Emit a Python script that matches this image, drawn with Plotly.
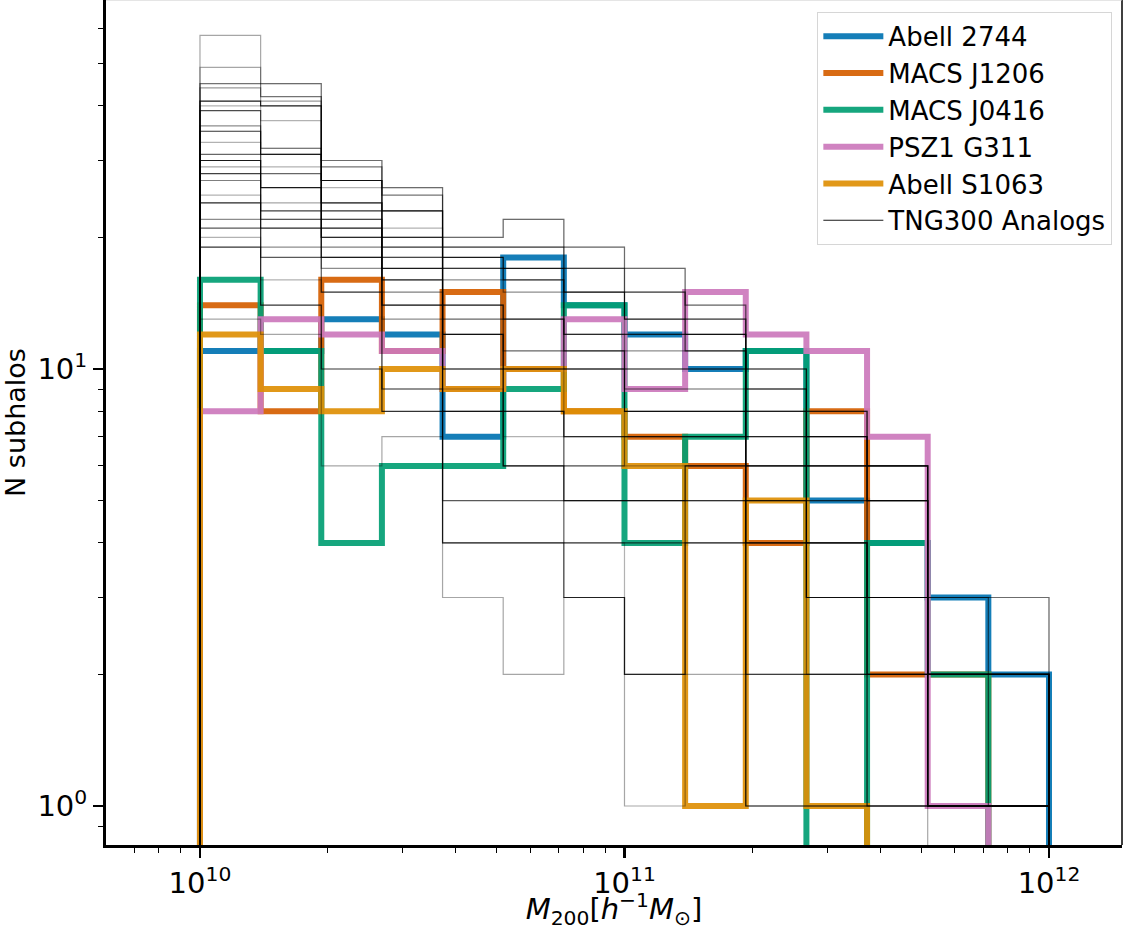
import numpy as np
import plotly.graph_objects as go

# ---------------- data ----------------
bin_edges = np.logspace(10, 12, 15)  # 14 bins, 1/7 dex each

cluster_names = ["Abell 2744", "MACS J1206", "MACS J0416", "PSZ1 G311", "Abell S1063"]
cluster_colors = ["#0173B2", "#D55E00", "#029E73", "#CC78BC", "#DE8F05"]

abell2744 = [11, 11, 13, 12, 7, 18, 14, 12, 10, 11, 5, 4, 3, 2]
macs1206 = [14, 8, 16, 11, 15, 10, 8, 7, 6, 4, 8, 2, 2, 0]
macs0416 = [16, 11, 4, 6, 6, 9, 14, 4, 7, 11, 0, 4, 2, 0]
psz1g311 = [8, 13, 12, 11, 9, 10, 13, 9, 15, 12, 11, 7, 1, 0]
abells1063 = [12, 9, 8, 10, 9, 10, 8, 6, 1, 5, 1, 0, 0, 0]
cluster_counts = [abell2744, macs1206, macs0416, psz1g311, abells1063]

# TNG300 analog histograms (counts per bin)
analogs = [
    [58, 45, 30, 26, 20, 22, 19, 17, 14, 10, 8, 6, 3, 3],
    [49, 45, 30, 26, 20, 22, 19, 17, 14, 10, 8, 6, 3, 3],
    [45, 42, 29, 25, 19, 19, 17, 15, 13, 10, 8, 6, 3, 2],
    [44, 41, 27, 23, 19, 19, 17, 15, 13, 9, 7, 6, 2, 2],
    [41, 40, 27, 23, 18, 17, 15, 13, 12, 9, 7, 6, 2, 2],
    [40, 37, 26, 21, 17, 16, 15, 12, 12, 8, 7, 5, 2, 2],
    [39, 32, 24, 20, 17, 16, 12, 12, 11, 8, 6, 5, 2, 2],
    [36, 31, 24, 20, 16, 15, 12, 11, 11, 8, 6, 5, 2, 2],
    [35, 31, 23, 19, 14, 13, 11, 10, 10, 7, 6, 5, 2, 2],
    [33, 29, 22, 18, 14, 13, 11, 10, 10, 7, 5, 3, 2, 2],
    [31, 28, 22, 18, 13, 11, 10, 9, 9, 6, 5, 3, 2, 1],
    [30, 26, 21, 17, 12, 10, 10, 8, 8, 6, 4, 3, 1, 1],
    [29, 24, 20, 16, 12, 10, 7, 8, 8, 6, 4, 3, 1, 1],
    [28, 23, 20, 16, 10, 8, 7, 7, 7, 5, 4, 3, 1, 1],
    [27, 22, 19, 15, 10, 8, 6, 7, 7, 5, 3, 2, 1, 1],
    [25, 22, 18, 14, 9, 7, 6, 6, 6, 4, 3, 2, 1, 1],
    [24, 21, 18, 14, 8, 6, 5, 5, 6, 4, 3, 2, 1, 1],
    [22, 19, 17, 13, 8, 6, 5, 5, 5, 4, 2, 2, 1, 1],
    [21, 18, 15, 9, 5, 5, 4, 4, 5, 2, 2, 1, 1, 1],
    [20, 16, 15, 9, 4, 4, 4, 2, 4, 2, 2, 1, 1, 1],
    [19, 14, 10, 8, 4, 4, 3, 2, 4, 1, 1, 1, 1, 1],
    [13, 12, 6, 7, 3, 2, 3, 1, 2, 1, 1, 1, 0, 0],
]
analog_alpha = [0.35, 0.35, 0.55, 0.4, 0.9, 0.3, 0.7, 0.45, 0.8, 0.3, 0.6,
                0.9, 0.35, 0.75, 0.5, 0.3, 0.85, 0.45, 0.65, 0.3, 0.8, 0.35]

x_tickvals = [1e10, 1e11, 1e12]
x_ticktext = ["10<sup>10</sup>", "10<sup>11</sup>", "10<sup>12</sup>"]
y_tickvals = [1, 10]
y_ticktext = ["10<sup>0</sup>", "10<sup>1</sup>"]

x_minor = [m * 10.0 ** e for e in (9, 10, 11) for m in range(2, 10)]
y_minor = [m * 10.0 ** e for e in (-1, 0, 1) for m in range(2, 10)]

FLOOR = 1e-3  # stands in for zero on the log axis (goes below the frame)


def step_xy(vals):
    ys = [v if v > 0 else FLOOR for v in vals]
    xs = [bin_edges[0]] + list(bin_edges[:-1]) + [bin_edges[-1]]
    return xs, [FLOOR] + ys + [FLOOR]


fig = go.Figure()

for name, color, counts in zip(cluster_names, cluster_colors, cluster_counts):
    xs, ys = step_xy(counts)
    fig.add_trace(go.Scatter(
        x=xs, y=ys, mode="lines", name=name,
        line=dict(color=color, width=6, shape="hv"),
        opacity=0.92,
    ))

legend_idx = 4
for i, (counts, a) in enumerate(zip(analogs, analog_alpha)):
    xs, ys = step_xy(counts)
    fig.add_trace(go.Scatter(
        x=xs, y=ys, mode="lines", name="TNG300 Analogs",
        line=dict(color=f"rgba(0,0,0,{a})", width=1.2, shape="hv"),
        showlegend=(i == legend_idx),
        hoverinfo="skip",
    ))

fig.update_layout(
    width=1125, height=930,
    margin=dict(l=106, r=3, t=0, b=85),
    plot_bgcolor="white", paper_bgcolor="white",
    font=dict(family="DejaVu Sans", color="black"),
    legend=dict(
        x=0.9905, y=0.986, xanchor="right", yanchor="top",
        bordercolor="#d6d6d6", borderwidth=1,
        bgcolor="rgba(255,255,255,0.85)",
        font=dict(size=26, family="DejaVu Sans"),
        itemwidth=60,
        traceorder="normal",
    ),
)

fig.update_xaxes(
    type="log", range=[9.7786, 12.172],
    tickmode="array", tickvals=x_tickvals, ticktext=x_ticktext,
    ticks="outside", ticklen=10, tickwidth=2.5, tickcolor="black",
    tickfont=dict(size=29),
    showline=True, linewidth=3, linecolor="black",
    showgrid=False, zeroline=False,
    minor=dict(tickmode="array", tickvals=x_minor, ticks="outside",
               ticklen=5, tickwidth=1, tickcolor="black", showgrid=False),
    title=dict(text="<i>M</i><sub>200</sub>[<i>h</i><sup>−1</sup><i>M</i><sub>⊙</sub>]",
               font=dict(size=29), standoff=7),
)
fig.update_yaxes(
    type="log", range=[-0.0892, 1.8444],
    tickmode="array", tickvals=y_tickvals, ticktext=y_ticktext,
    ticks="outside", ticklen=10, tickwidth=2.5, tickcolor="black",
    tickfont=dict(size=29),
    showline=True, linewidth=3, linecolor="black",
    showgrid=False, zeroline=False,
    minor=dict(tickmode="array", tickvals=y_minor, ticks="outside",
               ticklen=5, tickwidth=1, tickcolor="black", showgrid=False),
    title=dict(text="N subhalos", font=dict(size=27), standoff=10),
)

fig.add_shape(type="line", xref="paper", yref="paper", x0=1, x1=1, y0=0, y1=1,
              line=dict(color="black", width=1.5))
fig.add_shape(type="line", xref="paper", yref="paper", x0=0, x1=1, y0=1, y1=1,
              line=dict(color="#cccccc", width=1))

fig.write_html("out.html", config={"displayModeBar": False, "staticPlot": True})

# remove the browser's default page margin so the figure sits at (0, 0)
with open("out.html", "r", encoding="utf-8") as f:
    html = f.read()
html = html.replace("<head>", "<head><style>html,body{margin:0;padding:0;overflow:hidden;}</style>", 1)
with open("out.html", "w", encoding="utf-8") as f:
    f.write(html)
